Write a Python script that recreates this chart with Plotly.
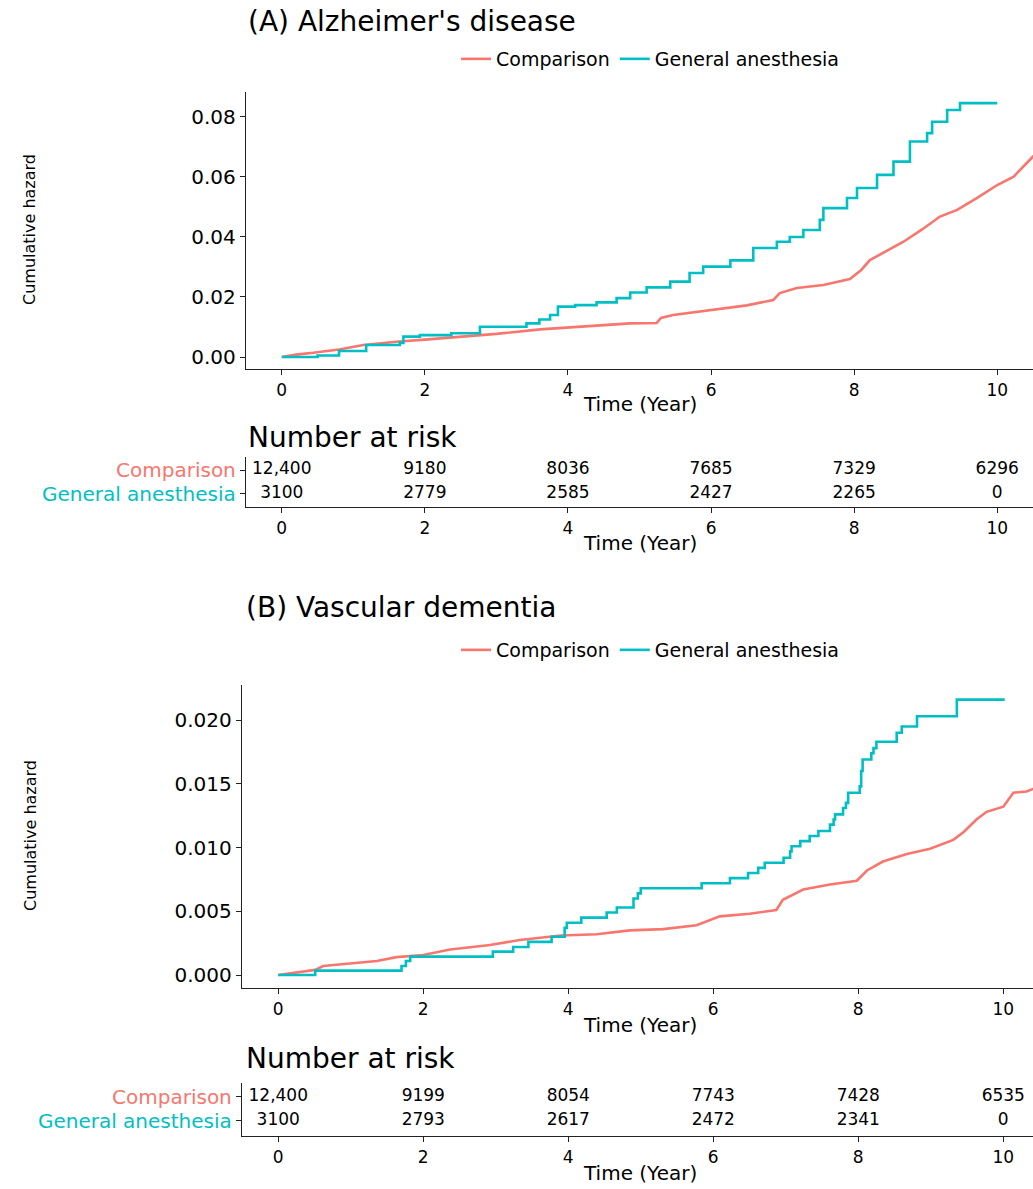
import plotly.graph_objects as go

COMP_COLOR = "#F8766D"
GA_COLOR = "#00BFC4"
FONT = "DejaVu Sans"
W, H = 1033, 1189

# ---------------- Data ----------------
# (A) Alzheimer's disease - cumulative hazard
a_comp_t = [0, 0.2, 0.44, 0.8, 1.14, 1.6, 2.0, 2.54, 3.0, 3.61, 4.0, 4.4, 4.87, 5.24, 5.3, 5.47,
            6.03, 6.5, 6.87, 6.96, 7.2, 7.57, 7.94, 8.1, 8.22, 8.45, 8.69, 8.95, 9.2, 9.44, 9.72,
            10.0, 10.23, 10.5, 10.6]
a_comp_h = [0, 0.0008, 0.0014, 0.0025, 0.004, 0.0051, 0.0058, 0.0068, 0.0077, 0.0092, 0.0098,
            0.0106, 0.0112, 0.0113, 0.013, 0.014, 0.0157, 0.0172, 0.019, 0.0213, 0.023, 0.024,
            0.026, 0.029, 0.0323, 0.0352, 0.0384, 0.0425, 0.0468, 0.049, 0.053, 0.0573, 0.0601,
            0.0668, 0.069]
a_ga_t = [0, 0.5, 0.8, 1.18, 1.65, 1.7, 1.93, 2.37, 2.77, 3.17, 3.42, 3.6, 3.75, 3.86, 4.1, 4.4,
          4.68, 4.87, 5.1, 5.43, 5.7, 5.89, 6.27, 6.59, 6.92, 7.1, 7.29, 7.52, 7.57, 7.9, 8.04,
          8.32, 8.55, 8.78, 9.02, 9.09, 9.3, 9.48, 10.0]
a_ga_h = [0, 0.0005, 0.002, 0.004, 0.0047, 0.0068, 0.0073, 0.0079, 0.0101, 0.0101, 0.0112, 0.0125,
          0.014, 0.0168, 0.0173, 0.0182, 0.0196, 0.0215, 0.0232, 0.0251, 0.028, 0.0301, 0.0322,
          0.0363, 0.0384, 0.040, 0.0423, 0.0457, 0.0496, 0.053, 0.0563, 0.0607, 0.0651, 0.0718,
          0.0746, 0.0784, 0.0823, 0.0846, 0.0846]

# (B) Vascular dementia - cumulative hazard
b_comp_t = [0, 0.27, 0.51, 0.62, 0.8, 1.0, 1.36, 1.63, 2.0, 2.37, 2.92, 3.33, 3.7, 3.9, 4.39, 4.85,
            5.31, 5.77, 6.09, 6.5, 6.87, 6.96, 7.24, 7.61, 7.98, 8.12, 8.34, 8.67, 8.99, 9.31, 9.45,
            9.63, 9.77, 10.0, 10.14, 10.32, 10.41, 10.5]
b_comp_h = [0, 0.0002, 0.0004, 0.0007, 0.0008, 0.0009, 0.0011, 0.0014, 0.00157, 0.0020, 0.00235,
            0.00275, 0.0030, 0.0031, 0.0032, 0.0035, 0.0036, 0.0039, 0.0046, 0.0048, 0.0051, 0.0059,
            0.0067, 0.0071, 0.0074, 0.0082, 0.0089, 0.0095, 0.0099, 0.0106, 0.0112, 0.0122, 0.0128,
            0.0132, 0.0143, 0.0144, 0.0146, 0.0147]
b_ga_t = [0, 0.51, 1.70, 1.76, 1.82, 2.96, 3.24, 3.45, 3.77, 3.95, 3.98, 4.18, 4.53, 4.67, 4.9,
          4.96, 5.0, 5.84, 6.23, 6.48, 6.62, 6.71, 6.97, 7.06, 7.08, 7.2, 7.33, 7.45, 7.61, 7.66,
          7.68, 7.79, 7.83, 7.86, 8.02, 8.04, 8.06, 8.18, 8.21, 8.25, 8.53, 8.6, 8.81, 9.36, 10.02]
b_ga_h = [0, 0.00034, 0.0007, 0.0011, 0.00144, 0.00183, 0.0022, 0.0026, 0.0030, 0.0037, 0.0041,
          0.0045, 0.0049, 0.0053, 0.0060, 0.0064, 0.0068, 0.0072, 0.0076, 0.0080, 0.0084, 0.0088,
          0.0092, 0.0097, 0.0101, 0.0105, 0.0109, 0.0113, 0.0118, 0.0122, 0.0126, 0.0131, 0.0135,
          0.0143, 0.0148, 0.0160, 0.0169, 0.0174, 0.0178, 0.0183, 0.0190, 0.0195, 0.0203, 0.0216,
          0.0216]

# Number at risk tables
risk_times = [0, 2, 4, 6, 8, 10]
a_risk_comp = ["12,400", "9180", "8036", "7685", "7329", "6296"]
a_risk_ga = ["3100", "2779", "2585", "2427", "2265", "0"]
b_risk_comp = ["12,400", "9199", "8054", "7743", "7428", "6535"]
b_risk_ga = ["3100", "2793", "2617", "2472", "2341", "0"]

group_names = ["Comparison", "General anesthesia"]
x_ticks = [0, 2, 4, 6, 8, 10]
a_y_ticks = [0, 0.02, 0.04, 0.06, 0.08]
b_y_ticks = [0, 0.005, 0.010, 0.015, 0.020]


def py2paper(py):
    return 1 - py / H


fig = go.Figure()
LW = 2.6

# Panel A curves
fig.add_trace(go.Scatter(x=a_comp_t, y=a_comp_h, name=group_names[0], mode="lines",
                         line=dict(color=COMP_COLOR, width=LW), xaxis="x", yaxis="y",
                         legend="legend"))
fig.add_trace(go.Scatter(x=a_ga_t, y=a_ga_h, name=group_names[1], mode="lines",
                         line=dict(color=GA_COLOR, width=LW, shape="hv"), xaxis="x", yaxis="y",
                         legend="legend"))
# Panel A risk table
fig.add_trace(go.Scatter(x=risk_times, y=[1] * 6, text=a_risk_comp, mode="text",
                         textfont=dict(family=FONT, size=17, color="black"),
                         xaxis="x2", yaxis="y2", showlegend=False, cliponaxis=False))
fig.add_trace(go.Scatter(x=risk_times, y=[0] * 6, text=a_risk_ga, mode="text",
                         textfont=dict(family=FONT, size=17, color="black"),
                         xaxis="x2", yaxis="y2", showlegend=False, cliponaxis=False))

# Panel B curves
fig.add_trace(go.Scatter(x=b_comp_t, y=b_comp_h, name=group_names[0], mode="lines",
                         line=dict(color=COMP_COLOR, width=LW), xaxis="x3", yaxis="y3",
                         legend="legend2"))
fig.add_trace(go.Scatter(x=b_ga_t, y=b_ga_h, name=group_names[1], mode="lines",
                         line=dict(color=GA_COLOR, width=LW, shape="hv"), xaxis="x3", yaxis="y3",
                         legend="legend2"))
# Panel B risk table
fig.add_trace(go.Scatter(x=risk_times, y=[1] * 6, text=b_risk_comp, mode="text",
                         textfont=dict(family=FONT, size=17, color="black"),
                         xaxis="x4", yaxis="y4", showlegend=False, cliponaxis=False))
fig.add_trace(go.Scatter(x=risk_times, y=[0] * 6, text=b_risk_ga, mode="text",
                         textfont=dict(family=FONT, size=17, color="black"),
                         xaxis="x4", yaxis="y4", showlegend=False, cliponaxis=False))

axis_common = dict(showline=True, linecolor="#222222", linewidth=1.4, ticks="outside",
                   ticklen=5, tickwidth=1.3, tickcolor="#222222", showgrid=False,
                   zeroline=False, tickfont=dict(family=FONT, size=17, color="black"))

dom_a = [246 / W, 1.0]
dom_b = [242 / W, 1.0]
row_labels = [f'<span style="color:{GA_COLOR}">{group_names[1]}</span>',
              f'<span style="color:{COMP_COLOR}">{group_names[0]}</span>']

fig.update_layout(
    width=W, height=H,
    margin=dict(l=0, r=0, t=0, b=0),
    paper_bgcolor="white", plot_bgcolor="white",
    font=dict(family=FONT, color="black"),
    xaxis=dict(domain=dom_a, anchor="y", range=[-0.5, 10.5], tickvals=x_ticks, **axis_common),
    yaxis=dict(domain=[py2paper(369), py2paper(92)], anchor="x", range=[-0.004, 0.0883],
               tickvals=a_y_ticks, tickformat=".2f",
               **{**axis_common, "tickfont": dict(family=FONT, size=20, color="black")}),
    xaxis2=dict(domain=dom_a, anchor="y2", range=[-0.5, 10.5], tickvals=x_ticks, **axis_common),
    yaxis2=dict(domain=[py2paper(507), py2paper(457)], anchor="x2", range=[-0.55, 1.55],
                tickvals=[0, 1], ticktext=row_labels,
                **{**axis_common, "tickfont": dict(family=FONT, size=20)}),
    xaxis3=dict(domain=dom_b, anchor="y3", range=[-0.5, 10.41], tickvals=x_ticks, **axis_common),
    yaxis3=dict(domain=[py2paper(988), py2paper(685)], anchor="x3", range=[-0.00102, 0.02275],
                tickvals=b_y_ticks, tickformat=".3f",
                **{**axis_common, "tickfont": dict(family=FONT, size=20, color="black")}),
    xaxis4=dict(domain=dom_b, anchor="y4", range=[-0.5, 10.41], tickvals=x_ticks, **axis_common),
    yaxis4=dict(domain=[py2paper(1136), py2paper(1083)], anchor="x4", range=[-0.625, 1.58],
                tickvals=[0, 1], ticktext=row_labels,
                **{**axis_common, "tickfont": dict(family=FONT, size=20)}),
    legend=dict(orientation="h", x=650 / W, xanchor="center", y=py2paper(59), yanchor="middle",
                font=dict(family=FONT, size=19, color="black"), bgcolor="rgba(0,0,0,0)"),
    legend2=dict(orientation="h", x=650 / W, xanchor="center", y=py2paper(650), yanchor="middle",
                 font=dict(family=FONT, size=19, color="black"), bgcolor="rgba(0,0,0,0)"),
)

annotations = [
    dict(text="(A) Alzheimer's disease", x=246 / W, y=py2paper(21), font=dict(size=28)),
    dict(text="Number at risk", x=246 / W, y=py2paper(437), font=dict(size=28)),
    dict(text="(B) Vascular dementia", x=244 / W, y=py2paper(607), font=dict(size=28)),
    dict(text="Number at risk", x=244 / W, y=py2paper(1058), font=dict(size=28)),
]
anns = []
for a in annotations:
    anns.append(dict(xref="paper", yref="paper", xanchor="left", yanchor="middle",
                     showarrow=False, text=a["text"], x=a["x"], y=a["y"],
                     font=dict(family=FONT, size=a["font"]["size"], color="black")))
for yc, xc in [(404, 640), (543, 640), (1025, 640), (1173, 640)]:
    anns.append(dict(xref="paper", yref="paper", xanchor="center", yanchor="middle",
                     showarrow=False, text="Time (Year)", x=xc / W, y=py2paper(yc),
                     font=dict(family=FONT, size=20, color="black")))
for yc in [230, 836]:
    anns.append(dict(xref="paper", yref="paper", xanchor="center", yanchor="middle",
                     showarrow=False, text="Cumulative hazard", x=30 / W, y=py2paper(yc),
                     textangle=-90, font=dict(family=FONT, size=16, color="black")))
fig.update_layout(annotations=anns)

fig.write_html(
    "out.html",
    config={"displayModeBar": False},
    post_script="document.body.style.margin='0';document.body.style.overflow='hidden';",
)
